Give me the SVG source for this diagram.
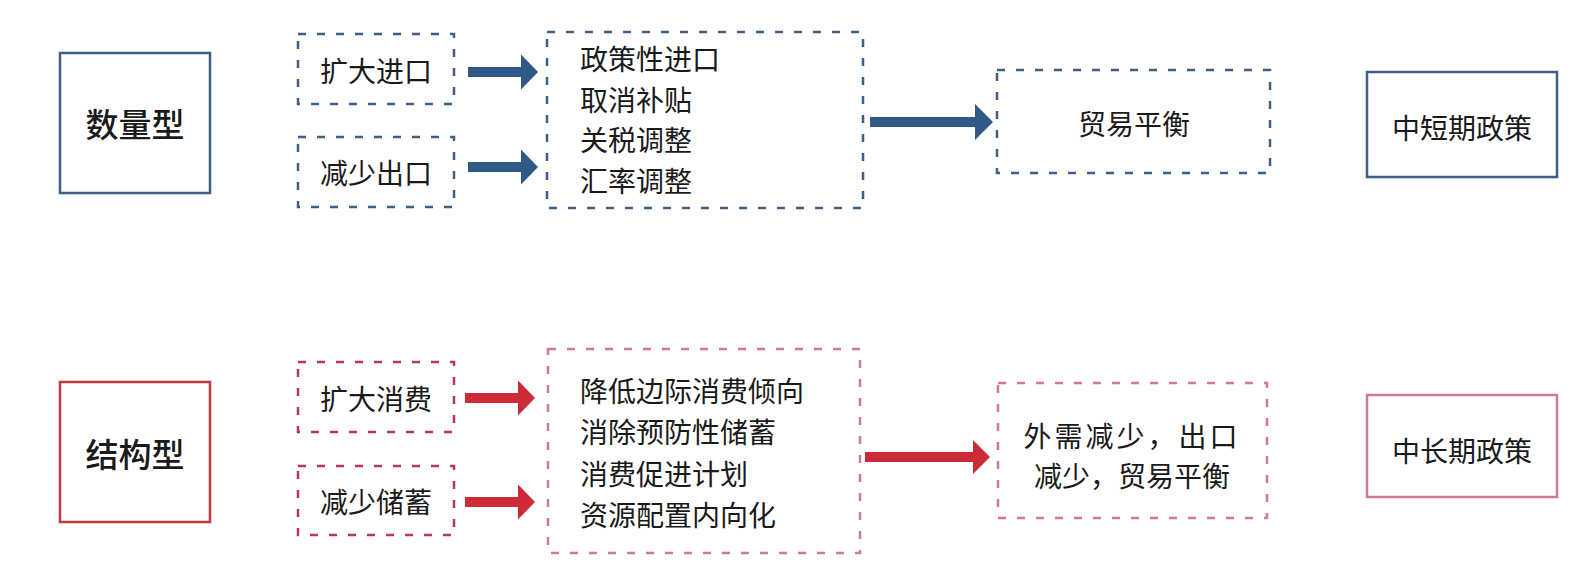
<svg xmlns="http://www.w3.org/2000/svg" width="1586" height="574" viewBox="0 0 1586 574">
<style>
.bg{fill:#ffffff}
.solidB{fill:none;stroke:#3f5f85;stroke-width:2.5}
.solidR{fill:none;stroke:#c0393f;stroke-width:2.5}
.solidP{fill:none;stroke:#d27a94;stroke-width:2.5}
.dashB{fill:none;stroke:#3f5f85;stroke-width:2.5;stroke-dasharray:8 11}
.dashR{fill:none;stroke:#b63a52;stroke-width:2.5;stroke-dasharray:8 11}
.dashP{fill:none;stroke:#d07a94;stroke-width:2.5;stroke-dasharray:8 11}
.arrB{fill:#2f5987}
.arrR{fill:#cc2a36}
.title{font-family:"Noto Sans CJK SC","Noto Sans",sans-serif;font-size:33px;font-weight:500;fill:#1a1a1a;text-anchor:middle;dominant-baseline:central}
.t{font-family:"Noto Sans CJK SC","Noto Sans",sans-serif;font-size:28px;fill:#1a1a1a;dominant-baseline:central}
.c{text-anchor:middle}
</style>
<rect class="bg" x="0" y="0" width="1586" height="574"/>

<g id="connectors">
  <path class="arrB" d="M468,67 H521 V54.5 L538,72 L521,89.5 V77 H468 Z"/>
  <path class="arrB" d="M468,162 H521 V149.5 L538,167 L521,184.5 V172 H468 Z"/>
  <path class="arrB" d="M870,117 H975 V104 L993,122 L975,140 V127 H870 Z"/>
  <path class="arrR" d="M465,393 H518 V380.5 L535,398 L518,415.5 V403 H465 Z"/>
  <path class="arrR" d="M465,497 H518 V484.5 L535,502 L518,519.5 V507 H465 Z"/>
  <path class="arrR" d="M865,452 H973 V440 L990,457 L973,474 V462 H865 Z"/>
</g>

<g id="node-shuliang">
  <rect class="solidB" x="60" y="53" width="150" height="140"/>
  <text class="title" x="135" y="123">数量型</text>
</g>
<g id="node-kuoda-jinkou">
  <rect class="dashB" x="298" y="34" width="156" height="70"/>
  <text class="t c" x="376" y="70">扩大进口</text>
</g>
<g id="node-jianshao-chukou">
  <rect class="dashB" x="298" y="137" width="156" height="70"/>
  <text class="t c" x="376" y="172">减少出口</text>
</g>
<g id="node-policy-top">
  <rect class="dashB" x="547" y="32" width="316" height="176"/>
  <text class="t" x="580" y="58">政策性进口</text>
  <text class="t" x="580" y="99">取消补贴</text>
  <text class="t" x="580" y="139">关税调整</text>
  <text class="t" x="580" y="180">汇率调整</text>
</g>
<g id="node-maoyi-pingheng">
  <rect class="dashB" x="997" y="70" width="273" height="103"/>
  <text class="t c" x="1134" y="123">贸易平衡</text>
</g>
<g id="node-zhongduanqi">
  <rect class="solidB" x="1367" y="72" width="190" height="105"/>
  <text class="t c" x="1462" y="127">中短期政策</text>
</g>

<g id="node-jiegou">
  <rect class="solidR" x="60" y="382" width="150" height="140"/>
  <text class="title" x="135" y="453">结构型</text>
</g>
<g id="node-kuoda-xiaofei">
  <rect class="dashR" x="298" y="362" width="156" height="70"/>
  <text class="t c" x="376" y="398">扩大消费</text>
</g>
<g id="node-jianshao-chuxu">
  <rect class="dashR" x="298" y="466" width="156" height="69"/>
  <text class="t c" x="376" y="501">减少储蓄</text>
</g>
<g id="node-policy-bottom">
  <rect class="dashP" x="548" y="349" width="312" height="204"/>
  <text class="t" x="580" y="390">降低边际消费倾向</text>
  <text class="t" x="580" y="431">消除预防性储蓄</text>
  <text class="t" x="580" y="473">消费促进计划</text>
  <text class="t" x="580" y="514">资源配置内向化</text>
</g>
<g id="node-waixu">
  <rect class="dashP" x="998" y="383" width="269" height="135"/>
  <text class="t c" x="1132" y="435" font-size="27" letter-spacing="3">外需减少，出口</text>
  <text class="t c" x="1132" y="475" font-size="27">减少，贸易平衡</text>
</g>
<g id="node-zhongchangqi">
  <rect class="solidP" x="1367" y="395" width="190" height="102"/>
  <text class="t c" x="1462" y="450">中长期政策</text>
</g>
</svg>
